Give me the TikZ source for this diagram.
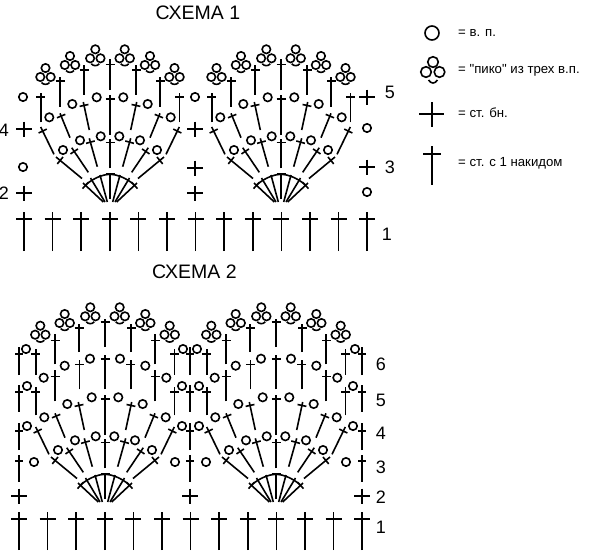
\documentclass[tikz,border=0pt]{standalone}
\usepackage{fontspec}
\setmainfont{Liberation Sans}
\newfontfamily\legendfont{Liberation Sans}
\usetikzlibrary{calc}
\tikzset{yarn/.style={line width=1.6pt, black}}
\tikzset{titleText/.style={font=\fontsize{19.5}{19.5}\selectfont, inner sep=0pt}}
\tikzset{rowText/.style={font=\fontsize{18}{18}\selectfont, inner sep=0pt}}
\tikzset{legendText/.style={font=\legendfont\fontsize{13.2}{14}\selectfont, inner sep=0pt, anchor=west}}
\newcommand{\stitch}[6][4.5]{%
  \coordinate (sa) at (#2,#3);
  \coordinate (sb) at (#4,#5);
  \coordinate (sm) at ($(sb)!#6pt!(sa)$);
  \draw[yarn] (sa) -- (sb);
  \draw[yarn] ($(sm)!#1pt!90:(sb)$) -- ($(sm)!#1pt!-90:(sb)$);
}
\newcommand{\vpCirc}[2]{\draw[yarn] (#1,#2) circle (4.2pt);}
\newcommand{\picot}[2]{%
  \begin{scope}[shift={(#1,#2)}]
  \vpCirc{0}{-9}
  \vpCirc{-5.2}{0}
  \vpCirc{5.2}{0}
  \draw[yarn] (-4,5.5) .. controls (-2,8) and (2,8) .. (4,5.5);
  \end{scope}
}
\newcommand{\bnCross}[2]{%
  \draw[yarn] (#1,#2-7.5) -- (#1,#2+8);
  \draw[yarn] (#1-8,#2) -- (#1+8,#2);
}
\newcommand{\shellLow}{%
  \stitch{0}{-3}{0}{-29}{1}
  \stitch{0}{-33.7}{0}{-62.7}{3}
  \stitch{0}{-67}{0}{-107}{4}
  \foreach \s in {-1,1} {
  \begin{scope}[xscale=\s]
  \stitch{-6.7}{0}{-27}{-19}{3.5}
  \draw[yarn] (-5,0) -- (-19.5,-24);
  \draw[yarn] (-2.7,0) -- (-10,-27);
  \draw[yarn] (-25,-16.7) .. controls (-17,-23.3) and (-8.3,-27.5) .. (0,-27.7);
  \foreach \xa/\ya/\xb/\yb/\dd in {
    -28/-23.5/-54/-45/5.4, -21.7/-29.7/-38.3/-54.3/4.5,
    -12.7/-35.3/-20.7/-63.7/4, -56/-47.7/-69.3/-75/4.5,
    -40/-64.3/-50/-88.7/3, -20.7/-72/-26.7/-100/3.5} {
    \stitch{\xa}{\ya}{\xb}{\yb}{\dd}
  }
  \foreach \xa/\ya in {-47/-52, -30/-61.7, -9.3/-65.7, -60.7/-84.7, -37.7/-98, -13.3/-104.7} {
    \vpCirc{\xa}{\ya}
  }
  \end{scope}
  }
}
\newcommand{\shellOne}[2]{%
  \begin{scope}[shift={(#1,#2)}]
  \shellLow
  \stitch{0}{-112}{0}{-142.7}{5}
  \foreach \s in {-1,1} {
  \begin{scope}[xscale=\s]
  \stitch{-69.3}{-79.7}{-69.3}{-108.7}{3.5}
  \stitch{-50}{-95.3}{-50}{-125.3}{4.5}
  \stitch{-26}{-107.3}{-26}{-137}{5}
  \picot{-64.5}{-125}
  \picot{-40}{-137}
  \picot{-14.7}{-143.7}
  \end{scope}
  }
  \end{scope}
}
\newcommand{\shellTwo}[2]{%
  \begin{scope}[shift={(#1,#2)}]
  \shellLow
  \stitch{0}{-112.7}{0}{-146.7}{3.5}
  \stitch{0}{-155}{0}{-183.3}{3.5}
  \foreach \s in {-1,1} {
  \begin{scope}[xscale=\s]
  \stitch{-69.3}{-86.7}{-69.3}{-115}{5}
  \stitch{-50}{-100.7}{-50}{-131.7}{6}
  \stitch{-25.7}{-112.7}{-25.7}{-141.7}{4}
  \stitch{-69.3}{-127.3}{-69.3}{-153.3}{5}
  \stitch{-50}{-137.7}{-50}{-167.7}{6}
  \stitch{-26}{-150}{-26}{-178.3}{4}
  \vpCirc{-61.3}{-124.3}
  \vpCirc{-40.3}{-136.3}
  \vpCirc{-15}{-143.3}
  \picot{-64.7}{-167.3}
  \picot{-40.3}{-179}
  \picot{-14.7}{-185.7}
  \end{scope}
  }
  \end{scope}
}
\begin{document}
\begin{tikzpicture}[x=1pt, y=-1pt]

\useasboundingbox (0,0) rectangle (600,550);

\node[titleText] (title1) at (198,13) {СХЕМА 1};
\node[titleText] (title2) at (194.5,272) {СХЕМА 2};

\shellOne{110}{202}
\shellOne{281}{202}

\foreach \i in {0,...,12} {
  \pgfmathsetmacro{\xr}{24+28.6*\i}
  \stitch[8]{\xr}{251}{\xr}{212}{7}
}
\bnCross{24}{129}
\bnCross{24}{193}
\bnCross{195}{129}
\bnCross{195}{168}
\bnCross{195}{193}
\bnCross{367}{97}
\bnCross{367}{167}
\vpCirc{23}{97}
\vpCirc{23}{167}
\vpCirc{195}{97}
\vpCirc{367}{128}
\vpCirc{367}{192}

\node[rowText] (row1a) at (387,234) {1};
\node[rowText] (row2a) at (4,193) {2};
\node[rowText] (row3a) at (390,167) {3};
\node[rowText] (row4a) at (4,130) {4};
\node[rowText] (row5a) at (390,92) {5};

\shellTwo{105}{502}
\shellTwo{276}{502}

\foreach \i in {0,...,12} {
  \pgfmathsetmacro{\xr}{19+28.6*\i}
  \stitch[8]{\xr}{550}{\xr}{512}{7}
}
\foreach \xr in {19,190,362} {
  \bnCross{\xr}{496}
  \stitch[4]{\xr}{481.7}{\xr}{455}{6}
  \stitch[4]{\xr}{450}{\xr}{423.3}{7.4}
  \stitch[4]{\xr}{411.7}{\xr}{385}{6.7}
  \stitch[4]{\xr}{375}{\xr}{346.7}{7.3}
}
\foreach \xc/\yc in {34/462, 175/462, 206/462, 346/462,
  27/426, 182/426, 199/426, 353/426,
  27/386, 182/386, 199/386, 353/386,
  26/349, 183/349, 197/349, 355/349} {
  \vpCirc{\xc}{\yc}
}

\node[rowText] (row1b) at (381,527) {1};
\node[rowText] (row2b) at (381,497) {2};
\node[rowText] (row3b) at (381,467) {3};
\node[rowText] (row4b) at (381,433) {4};
\node[rowText] (row5b) at (381,400) {5};
\node[rowText] (row6b) at (381,364) {6};

\draw[yarn] (432,33) circle (7pt);
\draw[yarn] (433,62) circle (5.3pt);
\draw[yarn] (426,72) circle (5.3pt);
\draw[yarn] (439.5,72) circle (5.3pt);
\draw[yarn] (428.5,80) .. controls (431,84) and (435,84) .. (437.5,80);
\draw[yarn] (432,102) -- (432,127);
\draw[yarn] (419,114) -- (444,114);
\draw[yarn] (432,146) -- (432,185);
\draw[yarn] (423,154) -- (441,154);

\node[legendText] (legVp) at (458,33) {= в. п.};
\node[legendText] (legPicot) at (458,70) {= "пико" из трех в.п.};
\node[legendText] (legBn) at (458,113) {= ст. бн.};
\node[legendText] (legSt) at (458,163) {= ст. с 1 накидом};

\end{tikzpicture}
\end{document}
